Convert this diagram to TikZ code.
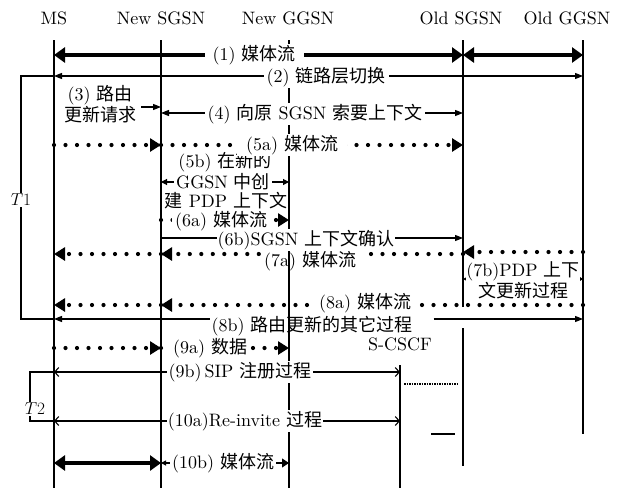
\documentclass[tikz,border=0pt]{standalone}
\usepackage{fontspec}
\setmainfont{lmroman10-regular.otf}[ItalicFont=lmroman10-italic.otf,BoldFont=lmroman10-bold.otf]
\newfontfamily\cjk{Noto Sans CJK SC}
\usetikzlibrary{arrows.meta}
\newcommand\zh[1]{{\cjk #1}}
\newcommand\mysize{\fontsize{18}{19.5}\selectfont}
\begin{document}
\begin{tikzpicture}[x=1pt,y=-1pt,
  txt/.style={font=\mysize, inner sep=1pt},
  lbl/.style={txt, fill=white},
  life/.style={line width=1.2pt},
  thinln/.style={line width=1.1pt},
  thickarr/.style={line width=4.5pt, {Triangle[length=11pt,width=15pt]}-{Triangle[length=11pt,width=15pt]}},
  dotline/.style={line width=4.2pt, line cap=round, dash pattern=on 0pt off 11.5pt},
  dotarr/.style={dotline, -{Triangle[length=11pt,width=13pt]}},
  thinarr/.style={thinln, -{Triangle[length=8pt,width=6pt]}},
  thinleft/.style={thinln, {Triangle[length=8pt,width=6pt]}-},
  thinboth/.style={thinln, {Triangle[length=8pt,width=6pt]}-{Triangle[length=8pt,width=6pt]}},
  smallboth/.style={thinln, {Triangle[length=5pt,width=5pt]}-{Triangle[length=7pt,width=9pt]}},
  smallleft/.style={thinln, {Triangle[length=6pt,width=6pt]}-},
  smallright/.style={thinln, -{Triangle[length=6pt,width=6pt]}},
  openboth/.style={thinln, {Straight Barb[length=4pt,width=9pt]}-{Straight Barb[length=4pt,width=9pt]}}
]
\fill[white] (0,0) rectangle (623,488);
\useasboundingbox (0,0) rectangle (623,488);

% lifeline x positions
\coordinate (ms) at (54,0);
\coordinate (ns) at (161,0);
\coordinate (ng) at (289,0);
\coordinate (os) at (463,0);
\coordinate (og) at (583,0);
\coordinate (sc) at (400,0);

% rows
\coordinate (top) at (0,40);
\coordinate (bot) at (0,488);
\coordinate (r1) at (0,55);
\coordinate (r2) at (0,76);
\coordinate (r3) at (0,107);
\coordinate (r4) at (0,113);
\coordinate (r5a) at (0,145);
\coordinate (r6a) at (0,220);
\coordinate (r6b) at (0,238);
\coordinate (r7a) at (0,254);
\coordinate (r7b) at (0,252);
\coordinate (r7m) at (0,279);
\coordinate (r8a) at (0,305);
\coordinate (r8b) at (0,319);
\coordinate (r9a) at (0,348);
\coordinate (r9b) at (0,372);
\coordinate (r10a) at (0,421);
\coordinate (r10b) at (0,463);
\coordinate (osgapA) at (0,307);
\coordinate (osgapB) at (0,328);
\coordinate (osend) at (0,466);
\coordinate (ogend) at (0,434);
\coordinate (scstart) at (0,365);

% headers
\node[txt] (hms) at (54,18) {MS};
\node[txt] (hns) at (161,18) {New SGSN};
\node[txt] (hng) at (288,18) {New GGSN};
\node[txt] (hos) at (461,18) {Old SGSN};
\node[txt] (hog) at (567,18) {Old GGSN};
\node[txt] (hsc) at (400,344) {S-CSCF};

% lifelines
\draw[life] (ms|-top) -- (ms|-bot);
\draw[life] (ns|-top) -- (ns|-bot);
\draw[life] (ng|-top) -- (ng|-bot);
\draw[life] (os|-top) -- (os|-osgapA);
\draw[life] (os|-osgapB) -- (os|-osend);
\draw[life] (og|-top) -- (og|-ogend);
\draw[life] (sc|-scstart) -- (sc|-bot);

% T1 and T2 brackets
\coordinate (t1a) at (21,76);
\coordinate (t1b) at (21,319);
\coordinate (t2a) at (30,372);
\coordinate (t2b) at (30,421);
\draw[thinln] (ms|-r2) -- (t1a) -- (t1b) -- (ms|-r8b);
\draw[thinln] (ms|-r9b) -- (t2a) -- (t2b) -- (ms|-r10a);

% (1)
\draw[thickarr] (ms|-r1) -- (os|-r1);
\draw[thickarr] (os|-r1) -- (og|-r1);
% (2)
\draw[thinboth] (ms|-r2) -- (og|-r2);
% (3)
\node[txt, align=center] (t3) at (100,104) {(3) \zh{路由}\\\zh{更新请求}};
\draw[thinarr] ([xshift=4pt]t3.east|-r3) -- (ns|-r3);
% (4)
\draw[thinboth] (ns|-r4) -- (os|-r4);
% (5a)
\draw[dotarr] (ms|-r5a) -- (ns|-r5a);
\draw[dotarr] (ns|-r5a) -- (os|-r5a);
% (5b)
\node[txt, inner sep=0pt] (t5b1) at (225,162) {(5b) \zh{在新的}};
\node[txt, inner xsep=2pt, inner ysep=0pt] (t5b2) at (223,182) {GGSN \zh{中创}};
\node[txt, inner sep=0pt] (t5b3) at (226,201) {\zh{建} PDP \zh{上下文}};
\draw[smallleft] (ns|-t5b2) -- (t5b2.west);
\draw[smallright] (t5b2.east) -- (ng|-t5b2);
% (6a)
\draw[dotarr] (ns|-r6a) -- (ng|-r6a);
% (6b)
\draw[thinarr] (ns|-r6b) -- (os|-r6b);
% (7a)
\node[txt] (t7a) at (310,261) {(7a) \zh{媒体流}};
\draw[dotline] (os|-r7a) -- ([xshift=8pt]t7a.east|-r7a);
\draw[dotarr] ([xshift=-4pt]t7a.west|-r7a) -- (ns|-r7a);
\draw[dotarr] (ns|-r7a) -- (ms|-r7a);
% (7b)
\draw[dotarr] (og|-r7b) -- (os|-r7b);
\draw[smallboth] (os|-r7m) -- (og|-r7m);
% (8a)
\draw[dotarr] (og|-r8a) -- (ns|-r8a);
\draw[dotarr] (ns|-r8a) -- (ms|-r8a);
% (8b)
\node[txt] (t8b) at (312,326) {(8b) \zh{路由更新的其它过程}};
\draw[thinleft] (ms|-r8b) -- (t8b.west|-r8b);
\draw[thinarr] ([xshift=20pt]t8b.east|-r8b) -- (og|-r8b);
% (9a)
\draw[dotarr] (ms|-r9a) -- (ns|-r9a);
\draw[dotarr] (ns|-r9a) -- (ng|-r9a);
% (9b), (10a)
\draw[openboth] (ms|-r9b) -- (sc|-r9b);
\draw[openboth] (ms|-r10a) -- (sc|-r10a);
% (10b)
\draw[thickarr] (ms|-r10b) -- (ns|-r10b);
\draw[smallboth] (ns|-r10b) -- (ng|-r10b);

% stray marks near S-CSCF
\coordinate (m1a) at (404,384);
\coordinate (m1b) at (459,384);
\coordinate (m2a) at (431,434);
\coordinate (m2b) at (455,434);
\draw[line width=1.3pt, dash pattern=on 1.5pt off 1pt] (m1a) -- (m1b);
\draw[thinln] (m2a) -- (m2b);

% labels on top (white backing breaks the lines)
\node[lbl, inner xsep=8pt] (t1) at (254,55) {(1) \zh{媒体流}};
\node[lbl, inner xsep=3pt] (t2) at (326,77) {(2) \zh{链路层切换}};
\node[lbl, inner xsep=3pt] (t4) at (315,114) {(4) \zh{向原} SGSN \zh{索要上下文}};
\node[lbl, inner xsep=9pt] (t5a) at (292,145) {(5a) \zh{媒体流}};
\node[lbl, inner xsep=3pt, inner ysep=0pt] (t6a) at (221,221) {(6a) \zh{媒体流}};
\node[lbl, inner xsep=0.5pt] (t6b) at (306,240) {(6b)SGSN \zh{上下文确认}};
\node[lbl, inner sep=0pt, align=center] (t7b) at (523,280) {(7b)PDP \zh{上下}\\\zh{文更新过程}};
\node[lbl, inner xsep=4pt] (t8a) at (365,303) {(8a) \zh{媒体流}};
\node[lbl, inner xsep=3pt] (t9a) at (210,348) {(9a) \zh{数据}};
\node[lbl, inner xsep=2pt] (t9b) at (240,372) {(9b)\,SIP \zh{注册过程}};
\node[lbl, inner xsep=1pt] (t10a) at (245,421) {(10a)Re-invite \zh{过程}};
\node[lbl, inner xsep=2pt] (t10b) at (223,463) {(10b) \zh{媒体流}};
\node[lbl] (T1) at (21,200) {$T1$};
\node[lbl] (T2) at (35,409) {$T2$};
\end{tikzpicture}
\end{document}
